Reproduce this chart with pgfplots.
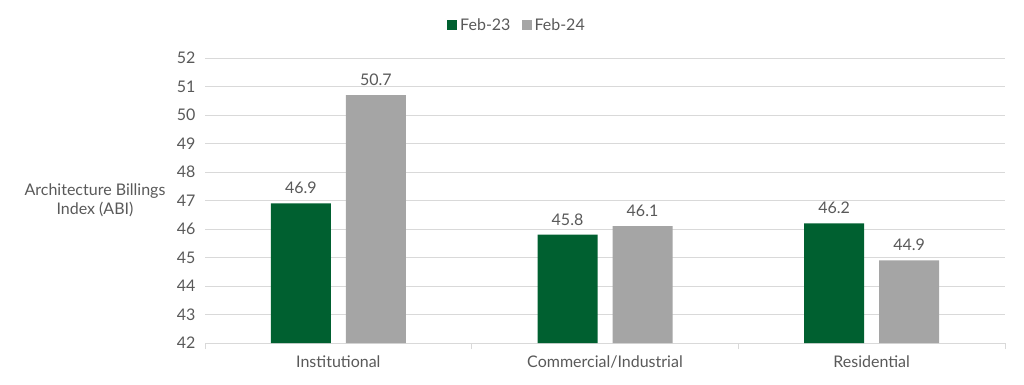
\documentclass[border=0pt]{standalone}
\usepackage{pgfplots}
\pgfplotsset{compat=1.18}
\usepackage{fontspec}
\setmainfont{Lato}
\definecolor{abigreen}{RGB}{0,96,48}
\definecolor{abigray}{RGB}{165,165,165}
\definecolor{gridgray}{RGB}{217,217,217}
\definecolor{txt}{RGB}{89,89,89}
\begin{document}
\begin{tikzpicture}
\useasboundingbox (-205pt,-41pt) rectangle (819pt,343pt);
\begin{axis}[
  at={(0pt,0pt)}, anchor=south west,
  scale only axis, width=800pt, height=285pt,
  xmin=-0.5, xmax=2.5, ymin=42, ymax=52,
  ytick={42,43,...,52},
  xtick={0,1,2},
  xticklabels={Institutional,Commercial/Industrial,Residential},
  minor xtick={-0.5,0.5,1.5,2.5},
  axis x line*=bottom, axis y line*=left,
  x axis line style={draw=gridgray, line width=0.8pt},
  y axis line style={draw=none},
  ymajorgrids, grid style={gridgray, line width=0.8pt},
  major tick length=0pt, minor tick length=6pt,
  tick align=outside,
  minor x tick style={draw=gridgray, line width=0.8pt},
  ytick style={draw=none},
  font=\fontsize{16}{19}\selectfont,
  tick label style={text=txt},
  /pgf/number format/assume math mode=true,
  yticklabel style={xshift=-6pt},
  xticklabel style={yshift=-9pt},
  ybar, bar width=60pt,
  nodes near coords,
  nodes near coords style={text=txt, font=\fontsize{16}{19}\selectfont, /pgf/number format/fixed, /pgf/number format/precision=1, /pgf/number format/fixed zerofill, yshift=6pt},
  legend style={at={(0.39,1.115)}, anchor=center, draw=none, fill=none, legend columns=2, font=\fontsize{16}{19}\selectfont, text=txt, /tikz/every odd column/.append style={column sep=1pt}, /tikz/every even column/.append style={column sep=9pt}},
  legend image code/.code={\fill (0pt,-5pt) rectangle (10pt,5pt);},
]
\addplot[fill=abigreen, draw=none, bar shift=-37.5pt] coordinates {(0,46.9) (1,45.8) (2,46.2)};
\addplot[fill=abigray, draw=none, bar shift=37.5pt] coordinates {(0,50.7) (1,46.1) (2,44.9)};
\legend{Feb-23,Feb-24}
\end{axis}
\node[align=center, text=txt, font=\fontsize{16}{19}\selectfont] at (-110pt,143pt) {Architecture Billings\\Index (ABI)};
\end{tikzpicture}
\end{document}
